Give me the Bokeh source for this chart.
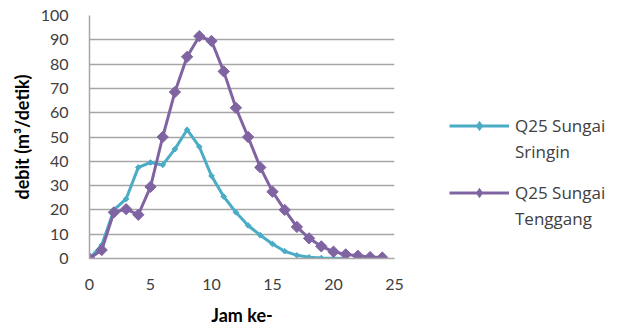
import math
from bokeh.plotting import figure
from bokeh.layouts import row
from bokeh.models import (ColumnDataSource, FixedTicker, Legend, LegendItem, Range1d)
from bokeh.embed import file_html
from bokeh.resources import INLINE

# ---- data ----
jam_tenggang = list(range(0, 25))
q25_tenggang = [0, 3.5, 19, 20.3, 18, 29.5, 50, 68.5, 83, 91.5, 89.5, 77, 62,
                50, 37.5, 27.5, 20, 13, 8.3, 5, 2.8, 1.7, 1.1, 0.6, 0.4]
jam_sringin = list(range(0, 22))
q25_sringin = [0, 5.5, 20, 24.5, 37.5, 39.5, 38.5, 45, 53, 46, 34, 25.5, 19,
               13.6, 9.6, 6, 3, 1.3, 0.5, 0.2, 0.1, 0]
x_ticks = [0, 5, 10, 15, 20, 25]
y_ticks = [0, 10, 20, 30, 40, 50, 60, 70, 80, 90, 100]
series_names = [("Q25 Sungai", "Sringin"), ("Q25 Sungai", "Tenggang")]

CYAN = "#4bacc6"
PURPLE = "#8064a2"
TXT = "#404040"
TICK_FONT = "Lato"
LEG_FONT = "Open Sans"

p = figure(width=410, height=328, output_backend="svg", toolbar_location=None,
           x_range=Range1d(0, 25), y_range=Range1d(0, 100),
           min_border_left=89, min_border_right=16, min_border_top=15,
           min_border_bottom=66)
p.outline_line_color = None
p.background_fill_color = "white"
p.border_fill_color = "white"

p.xgrid.grid_line_color = None
p.ygrid.grid_line_color = "#a6a6a6"
p.ygrid.grid_line_width = 1.5

for ax in (p.xaxis[0], p.yaxis[0]):
    ax.axis_line_color = "#a6a6a6"
    ax.axis_line_width = 1.5
    ax.major_tick_line_color = None
    ax.minor_tick_line_color = None
    ax.major_label_text_font = TICK_FONT
    ax.major_label_text_font_size = "16px"
    ax.major_label_text_color = TXT
    ax.axis_label_text_font = TICK_FONT
    ax.axis_label_text_font_size = "18px"
    ax.axis_label_text_font_style = "bold"
    ax.axis_label_text_color = "#000000"

p.xaxis.ticker = FixedTicker(ticks=x_ticks)
p.yaxis.ticker = FixedTicker(ticks=y_ticks)
p.xaxis.major_label_standoff = 14
p.yaxis.major_label_standoff = 15
p.xaxis.axis_label = "Jam ke-"
p.yaxis.axis_label = "debit (m³/detik)"
p.xaxis.axis_label_standoff = 11
p.yaxis.axis_label_standoff = 5

src_s = ColumnDataSource(dict(x=jam_sringin, y=q25_sringin))
src_t = ColumnDataSource(dict(x=jam_tenggang, y=q25_tenggang))

p.line("x", "y", source=src_s, line_color=CYAN, line_width=3)
p.scatter("x", "y", source=src_s, marker="square", size=4, angle=math.pi / 4,
          fill_color=CYAN, line_color=CYAN)
p.line("x", "y", source=src_t, line_color=PURPLE, line_width=3)
p.scatter("x", "y", source=src_t, marker="square", size=8, angle=math.pi / 4,
          fill_color=PURPLE, line_color=PURPLE)

# ---- legend panel (proxy renderers hold no visible points) ----
p2 = figure(width=214, height=328, output_backend="svg", toolbar_location=None,
            x_range=Range1d(0, 214), y_range=Range1d(0, 328),
            x_axis_location=None, y_axis_location=None,
            min_border=0, min_border_left=0, min_border_right=0,
            min_border_top=0, min_border_bottom=0)
p2.outline_line_color = None
p2.grid.visible = False
p2.background_fill_color = "white"
p2.border_fill_color = "white"

nan = float("nan")
ls = p2.line(x=[nan], y=[nan], line_color=CYAN, line_width=3)
ms = p2.scatter(x=[nan], y=[nan], marker="diamond", size=7, fill_color=CYAN, line_color=CYAN)
lt = p2.line(x=[nan], y=[nan], line_color=PURPLE, line_width=3)
mt = p2.scatter(x=[nan], y=[nan], marker="diamond", size=12, fill_color=PURPLE, line_color=PURPLE)
dummy = p2.line(x=[nan], y=[nan], line_alpha=0)


def make_legend(names, renderers, loc):
    lg = Legend(items=[LegendItem(label=names[0], renderers=renderers),
                       LegendItem(label=names[1], renderers=[dummy])],
                location=loc, padding=0, margin=0, spacing=3,
                glyph_width=60, glyph_height=23, label_height=23,
                label_standoff=6, border_line_color=None,
                background_fill_alpha=0,
                label_text_font=LEG_FONT, label_text_font_size="17px",
                label_text_color=TXT)
    p2.add_layout(lg, "center")
    return lg


make_legend(series_names[0], [ls, ms], (39, 95))
make_legend(series_names[1], [lt, mt], (39, 28))

layout = row(p, p2, spacing=0)
open("out.html", "w").write(file_html(layout, INLINE))
